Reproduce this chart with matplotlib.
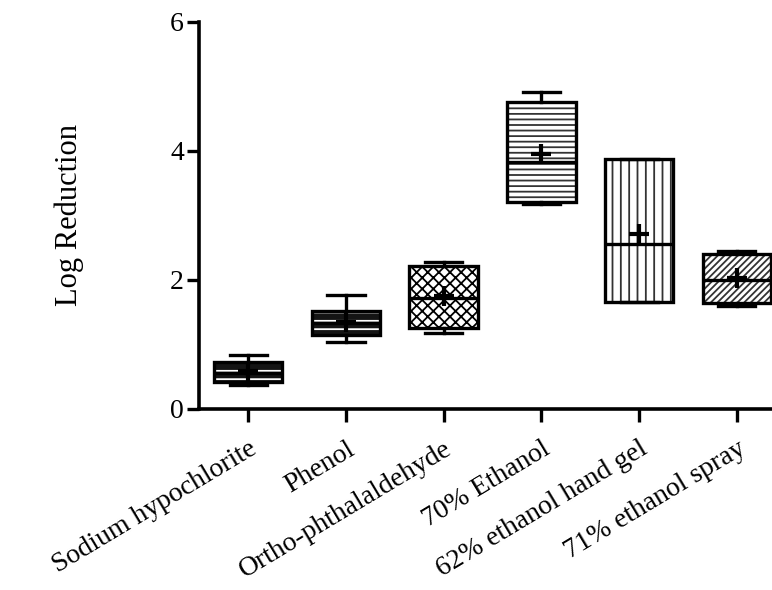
import numpy as np
import matplotlib
matplotlib.use("Agg")
import matplotlib.pyplot as plt

plt.rcParams['font.family'] = ['Liberation Serif', 'DejaVu Serif']
plt.rcParams['hatch.linewidth'] = 1.3

# (log reduction)
labels = ["Sodium hypochlorite", "Phenol", "Ortho-phthalaldehyde",
          "70% Ethanol", "62% ethanol hand gel", "71% ethanol spray"]
whislo = [0.37, 1.04, 1.18, 3.18, 1.66, 1.60]
q1 = [0.42, 1.15, 1.26, 3.21, 1.66, 1.64]
med = [0.55, 1.33, 1.72, 3.83, 2.56, 2.00]
q3 = [0.73, 1.51, 2.21, 4.76, 3.88, 2.40]
whishi = [0.84, 1.76, 2.28, 4.91, 3.88, 2.45]
means = [0.58, 1.34, 1.75, 3.95, 2.71, 2.03]

# fill styles for each box: face colour, hatch colour, hatch
faces = ['#141414', '#141414', 'white', 'white', 'white', 'white']
hatch_cols = ['white', 'white', 'black', '#333333', '#333333', '#333333']
hatches = ['--', '--', 'xxx', '---', '||', '/////']

pos = np.arange(1, len(labels) + 1)
w = 0.7

fig = plt.figure(figsize=(7.72, 5.9), dpi=100)
ax = fig.add_axes([0.258, 0.307, 0.742, 0.656])

# hatched fills first
for i in range(len(labels)):
    ax.bar(pos[i], q3[i] - q1[i], bottom=q1[i], width=w, color=faces[i],
           edgecolor=hatch_cols[i], hatch=hatches[i], linewidth=0, zorder=1)

stats = []
for i in range(len(labels)):
    stats.append(dict(label=labels[i], whislo=whislo[i], q1=q1[i], med=med[i],
                      q3=q3[i], whishi=whishi[i], fliers=[]))

lw = 2.4
ax.bxp(stats, positions=pos, widths=w, showfliers=False, patch_artist=True,
       boxprops=dict(facecolor='none', edgecolor='black', linewidth=lw),
       medianprops=dict(color='black', linewidth=lw),
       whiskerprops=dict(color='black', linewidth=lw),
       capprops=dict(color='black', linewidth=lw), capwidths=0.38,
       zorder=3)
ax.plot(pos, means, '+', color='black', ms=15, mew=3, zorder=4)

ax.set_xlim(0.498, 6.36)
ax.set_ylim(0, 6)
ax.set_yticks([0, 2, 4, 6])
ax.set_xticks(pos)
ax.set_xticklabels(labels, rotation=31, ha='right', rotation_mode='anchor',
                   fontsize=20)
ax.tick_params(axis='y', labelsize=20, length=9, width=2.4, pad=2)
ax.tick_params(axis='x', length=9, width=2.4, pad=11)
ax.set_ylabel("Log Reduction", fontsize=22, labelpad=62)

for s in ['top', 'right']:
    ax.spines[s].set_visible(False)
for s in ['left', 'bottom']:
    ax.spines[s].set_linewidth(2.6)

fig.savefig("out.png", dpi=100)
